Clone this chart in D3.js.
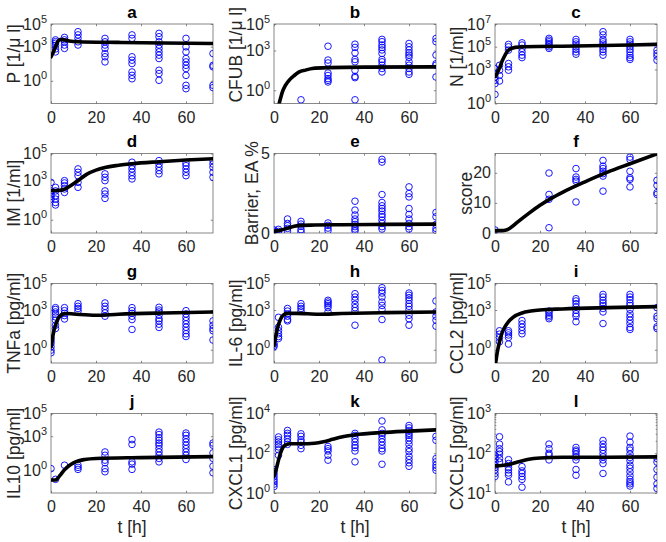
<!DOCTYPE html>
<html><head><meta charset="utf-8">
<script src="https://cdn.jsdelivr.net/npm/d3@7"></script>
<style>body{margin:0;background:#fff}svg{display:block}</style>
</head><body><svg id="c" width="666" height="542"></svg>
<script>
// ---------- data ----------
const times = [0, 2, 6, 12, 24, 36, 48, 60, 72];
const xTicks = [0, 20, 40, 60];
const titles = ["a","b","c","d","e","f","g","h","i","j","k","l"];
const yLabels = ["P [1/\u03bc l]","CFUB [1/\u03bc l]","N [1/ml]","IM [1/ml]","Barrier, EA %","score",
  "TNFa [pg/ml]","IL-6 [pg/ml]","CCL2 [pg/ml]","IL10 [pg/ml]","CXCL1 [pg/ml]","CXCL5 [pg/ml]"];
const yDomains = [[1e-2,1e5],[1e-1,1e5],[1,1e7],[1e-1,1e5],[0,5],[0,26.4],
  [1e-1,1e5],[1e-1,1e5],[1e-1,1e5],[1e-2,1e5],[1,1e4],[10,1e3]];
const yTickVals = [[1,1e3,1e5],[1,1e3,1e5],[1,1e3,1e5,1e7],[1,1e3,1e5],[0,5],[0,10,20],
  [1,1e3,1e5],[1,1e3,1e5],[1,1e3,1e5],[1,1e3,1e5],[1,1e2,1e4],[10,1e2,1e3]];

const ptsA = [[],[4000,2800,2000,1300,630,350],[6600,4000,2700,1400,710],[21000,11000,5400,2700,1400],
  [5400,2700,1400,710,250,130,46],[11000,5400,130,65,33,6,3,1.5],[15000,7600,2700,1400,710,350,180,91,8.5,4.3,1.1],
  [5400,980,350,91,46,23,12,3,0.4,0.2],[250,23,17,0.4,0.25]];
const ptsB = [[],[],[],[0.19],[2100,190,115,20,13,7.6,5.6,4.2],[3000,1700,660,210,140,32,11,8.9,0.19],
  [6900,4600,2600,1700,1100,600,210,140,78,44,24],[3400,1900,1100,660,450,300,140,78,44,24,16],[8100,4600,450,100,78,10]];
const ptsC = [[1200,430,210,110,56,6.3],[2300,850,300,95],[160000,98000,50000,3300,1700,850],
  [220000,140000,71000,35000,18000,11000],[540000,380000,270000,190000,140000,98000,71000],
  [440000,270000,170000,98000,58000,35000,22000],[2100000,1100000,440000,270000,170000,98000,58000,35000,18000],
  [440000,270000,170000,98000,58000,35000,18000,11000,7600],[50000,26000,15000,6500]];
const ptsD = [[660,150,87,58,36],[280,150,65,36,20,13],[890,600,370,210,115],[6900,3800,2100,660,280],
  [2900,1600,890,150,87,41],[22000,12000,6900,3800,2100,1200],[29000,16000,9100,5100,2900],
  [19000,12000,6900,3800,2100],[29000,16000,9100,3800,1600]];
const ptsE = [[0.19,0.1],[0.23,0.1],[0.88,0.6,0.46,0.29,0.12],[0.73,0.56,0.42,0.21,0.06],[0.63,0.48,0.31,0.15],
  [2.0,1.44,1.13,0.88,0.71,0.54,0.40,0.25,0.13],[4.63,4.46,2.42,1.92,1.71,1.54,1.38,1.17,1.02,0.81,0.60,0.40,0.25],
  [2.9,2.48,2.27,1.54,1.17,0.88,0.60,0.40,0.25],[1.29,1.02,0.54,0.29,0.13]];
const ptsF = [[1],[],[],[],[19.9,12.8,11.2,1.75],[21.4,18.6,17.8,17.2,10.3],[24.1,22.2,21.4,20.5,19.7,18.9,13.9],
  [25.2,24.4,20.5,18.3,17.8,15.3],[17.5,15.8,13.4,12.8]];
const ptsG = [[7.1,4.7,3.0,1.7,0.93,0.59],[1500,1100,710,480,300,170,71,40],[1500,890,560,380,210],[3000,1900,1300,830],
  [3400,1900,1100,600,340],[1500,890,560,340,190,34],[1600,1000,710,400,220,150,85,48],
  [890,500,280,160,89,50,28,16,10],[150,71,40,27,5.4]];
const ptsH = [[3.0,2.2,1.7],[280,50,28,16,10,7.1],[1300,830,520,340,190,150],[3000,1900,1300,830],
  [5400,4000,3000,2200,1500,710],[17000,9500,5400,2700,1500,890,71],[48000,30000,19000,9500,4000,2200,1100,190,0.17],
  [19000,13000,8500,5400,3000,1900,1100,400,220,71],[4800,710,340,170,60]];
const ptsI = [[],[27,15,8.5,4],[27,19,13,8.5,2.7],[160,89,50,28,16],[830,600,400,300,220],
  [7100,4800,3000,1700,950,520,340,130],[15000,9500,5400,3400,2200,1300,710,95],
  [15000,9500,6000,3400,2200,1100,520,300,170,95,48,34],[1500,340,220,54,40]];
const ptsJ = [[1.4],[0.16],[2.8],[2.8,1.8,1.2],[41,21,7.8,4.6,1.4,0.74],[500,190,5.5,3.5,1.2],
  [2300,1400,740,440,250,160,81,41,21,11,5.5],[1900,1200,600,310,160,81,41,21,8.9],[250,160,34,11,2.3,0.6]];
const ptsK = [[15,12,8.9,6.6,4.8,3.7,2.8,2.1],[660,480,370,280,210,150,79],[1400,1000,790,540,370,280],
  [950,710,480,370,250,170],[220,170,130,79,45],[1000,790,540,370,250,190,130,37],
  [4200,1500,1000,790,540,370,250,170,130,28],[2500,1900,1400,1000,790,600,420,280,170,120,71,48,33,22],
  [710,450,54,37,25,19,14]];
const ptsL = [[89,74,60,50,44,38,31,26],[260,170,130,110,95,74,60],[69,55,44,38,32,28,19],[46,36,31,26,22,14],
  [170,130,100,89,68],[140,120,110,95,81,68,39,28],[210,170,140,120,98,81,68,55,31],
  [270,190,140,120,95,78,65,50,42,34,27,22,19,17,15],[74,60,39,25,17,13]];

const fitTA = [0,1,2,3,4,5,8,12,30,50,72];
const fitVA = [126,316,1000,2800,4200,4200,3200,2750,2400,2100,1900];
const fitTB = [2.3,3,3.7,5,6.7,9,11.2,14,17,24,40,72];
const fitVB = [0.1,0.28,0.72,2.2,5.6,13,24,33,44,51,56,58];
const fitTC = [0.3,1,2.2,3,3.7,5,6,9,13,36,60,72];
const fitVC = [250,500,1700,4500,9100,28000,50000,87000,100000,115000,140000,160000];
const fitTD = [0,3,6,9,12,16,20,24,30,36,48,60,72];
const fitVD = [160,160,200,400,890,2800,5600,8900,13000,17000,24000,32000,40000];
const fitTE = [0,3,6,9,12,18,30,50,72];
const fitVE = [0.12,0.18,0.3,0.42,0.48,0.5,0.52,0.54,0.56];
const fitTF = [0,3,5,7,10,15,20,25,30,40,50,60,72];
const fitVF = [0.8,0.8,1.0,1.8,3.6,6.5,9.2,11.5,13.5,17,20.2,23,26.3];
const fitTG = [0,0.5,1,2,3,4,5,7,10,20,30,50,72];
const fitVG = [1.6,5,16,71,200,350,480,540,500,400,480,600,710];
const fitTH = [0,1,2,3,4,6,10,20,30,50,72];
const fitVH = [2,16,79,220,400,560,560,480,540,630,710];
const fitTI = [0.3,1,2,3,4,6,8,12,16,20,30,50,72];
const fitVI = [0.1,0.63,4,16,40,130,280,600,830,1000,1200,1500,1800];
const fitTJ = [0,2,3,4,5,6,8,10,12,15,20,40,72];
const fitVJ = [0.14,0.14,0.2,0.35,0.63,1.1,2.5,4.5,6.6,8.9,11,13,16];
const fitTK = [0,1,2,3,4,5,7,12,18,22,26,30,36,48,60,72];
const fitVK = [7.1,16,45,110,200,250,300,300,320,380,500,660,850,1100,1300,1500];
const fitTL = [0,3,6,10,15,20,30,50,72];
const fitVL = [48,49,52,60,71,76,79,79,81];

const allPts = [ptsA,ptsB,ptsC,ptsD,ptsE,ptsF,ptsG,ptsH,ptsI,ptsJ,ptsK,ptsL];
const allFitT = [fitTA,fitTB,fitTC,fitTD,fitTE,fitTF,fitTG,fitTH,fitTI,fitTJ,fitTK,fitTL];
const allFitV = [fitVA,fitVB,fitVC,fitVD,fitVE,fitVF,fitVG,fitVH,fitVI,fitVJ,fitVK,fitVL];

// ---------- layout ----------
const colLeft = [51, 274, 495];
const rowTop = [24, 153.5, 283.5, 413.5];
const W = 162, H = 79.5;
const ylabOff = [-37,-38,-38,-37,-22,-29,-37,-38,-38,-37,-38,-38];
const ylabShift = [-10,-9,-7,0,0,0,0,0,0,0,0,0];
const FONT = "'Liberation Sans', Arial, Helvetica, sans-serif";
const TXT = "#262626";

const svg = d3.select("#c");
svg.append("rect").attr("width",666).attr("height",542).attr("fill","#fff");

allPts.forEach((pts, i) => {
  const col = i % 3, row = Math.floor(i / 3);
  const L = colLeft[col], T = rowTop[row];
  const isLin = (i === 4 || i === 5);
  const x = d3.scaleLinear().domain([0, 72]).range([L, L + W]);
  const y = (isLin ? d3.scaleLinear() : d3.scaleLog()).domain(yDomains[i]).range([T + H, T]);
  const g = svg.append("g");

  const cid = "clip" + i;
  svg.append("clipPath").attr("id", cid).append("rect")
    .attr("x", L).attr("y", T).attr("width", W).attr("height", H);

  // box
  g.append("rect").attr("x", L).attr("y", T).attr("width", W).attr("height", H)
    .attr("fill", "#fff").attr("stroke", "#6a6a6a").attr("stroke-width", 0.8);

  // axes ticks (inward, mirrored)
  const tk = 2.2;
  const ax = g.append("g").attr("transform", `translate(0,${T + H})`)
    .call(d3.axisBottom(x).tickValues(xTicks).tickSizeInner(-tk).tickSizeOuter(0).tickPadding(8));
  g.append("g").attr("transform", `translate(0,${T})`)
    .call(d3.axisTop(x).tickValues(xTicks).tickSizeInner(-tk).tickSizeOuter(0).tickFormat(""));
  g.append("g").attr("transform", `translate(${L},0)`)
    .call(d3.axisLeft(y).tickValues(yTickVals[i]).tickSizeInner(-tk).tickSizeOuter(0).tickFormat(""));
  g.append("g").attr("transform", `translate(${L + W},0)`)
    .call(d3.axisRight(y).tickValues(yTickVals[i]).tickSizeInner(-tk).tickSizeOuter(0).tickFormat(""));
  g.selectAll(".domain").remove();
  g.selectAll(".tick line").attr("stroke", "#6a6a6a").attr("stroke-width", 0.8);
  ax.selectAll("text").attr("font-family", FONT).attr("font-size", 16).attr("fill", TXT);

  // minor ticks for short log ranges
  if (i === 11) {
    const minors = [];
    for (let d = 10; d < 1000; d *= 10) for (let m = 2; m <= 9; m++) minors.push(d * m);
    minors.forEach(v => {
      g.append("line").attr("x1", L).attr("x2", L + 1.3).attr("y1", y(v)).attr("y2", y(v))
        .attr("stroke", "#6a6a6a").attr("stroke-width", 0.8);
      g.append("line").attr("x1", L + W).attr("x2", L + W - 1.3).attr("y1", y(v)).attr("y2", y(v))
        .attr("stroke", "#6a6a6a").attr("stroke-width", 0.8);
    });
  }

  // y tick labels
  yTickVals[i].forEach(v => {
    const t = g.append("text").attr("x", L - 4).attr("y", y(v) + 5.5)
      .attr("text-anchor", "end").attr("font-family", FONT).attr("font-size", 16).attr("fill", TXT);
    if (isLin) {
      t.text(v);
    } else {
      t.append("tspan").text("10");
      t.append("tspan").attr("font-size", 11).attr("dy", -7).text(Math.round(Math.log10(v)));
    }
  });

  // y label
  g.append("text")
    .attr("transform", `translate(${L + ylabOff[i]},${T + H / 2 + ylabShift[i]}) rotate(-90)`)
    .attr("text-anchor", "middle").attr("dy", "0.35em")
    .attr("font-family", FONT).attr("font-size", 17.5).attr("fill", TXT)
    .text(yLabels[i]);

  // title
  g.append("text").attr("x", L + W / 2).attr("y", T - 6.5)
    .attr("text-anchor", "middle").attr("font-family", FONT).attr("font-size", 17)
    .attr("font-weight", "bold").attr("fill", "#000").text(titles[i]);

  // x label bottom row
  if (row === 3) {
    g.append("text").attr("x", L + W / 2).attr("y", 533)
      .attr("text-anchor", "middle").attr("font-family", FONT).attr("font-size", 17.5)
      .attr("fill", TXT).text("t [h]");
  }

  // points
  const flat = [];
  pts.forEach((arr, k) => arr.forEach(v => flat.push([times[k], v])));
  const pg = g.append("g").attr("clip-path", `url(#${cid})`);
  pg.selectAll("circle").data(flat).join("circle")
    .attr("cx", d => x(d[0])).attr("cy", d => y(d[1])).attr("r", 3.3)
    .attr("fill", "none").attr("stroke", "#0000ff").attr("stroke-width", 0.9);

  // fitted curve
  const fit = allFitT[i].map((t, k) => [t, allFitV[i][k]]);
  pg.append("path").datum(fit)
    .attr("d", d3.line().x(d => x(d[0])).y(d => y(d[1])).curve(d3.curveMonotoneX))
    .attr("fill", "none").attr("stroke", "#000").attr("stroke-width", 3.6)
    .attr("stroke-linejoin", "round").attr("stroke-linecap", "round");
});
</script>
</body></html>
